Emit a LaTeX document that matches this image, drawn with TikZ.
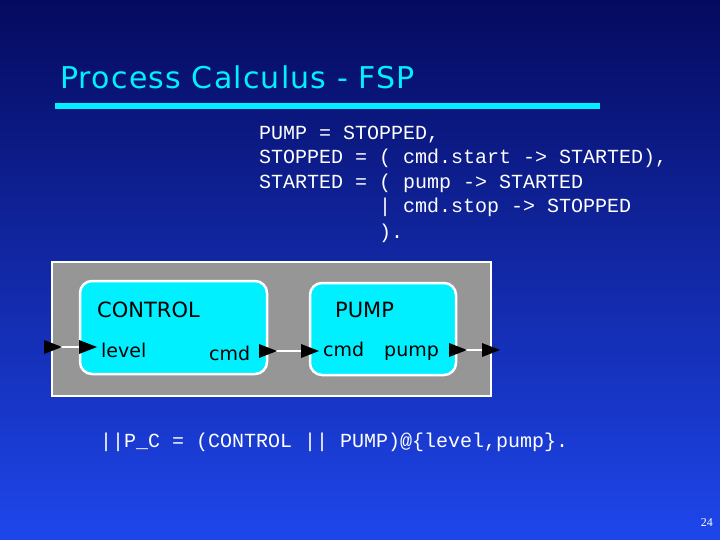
\documentclass[tikz,border=0pt]{standalone}
\usepackage{fontspec}
\setmainfont{DejaVu Sans}
\setmonofont{Liberation Mono}
\newfontfamily\serifnum{Liberation Serif}
\newfontfamily\titlefont[LetterSpace=4]{DejaVu Sans}
\usetikzlibrary{positioning}
\definecolor{navy}{RGB}{5,10,95}
\definecolor{brightblue}{RGB}{30,70,235}
\definecolor{boxcyan}{RGB}{0,240,255}
\definecolor{panelgray}{RGB}{150,150,150}
\tikzset{
    procbox/.style = {draw=white, line width=2.5pt, fill=boxcyan, rounded corners=12pt},
    codetext/.style = {anchor=base west, text=white, font=\ttfamily\fontsize{20}{24}\selectfont, inner sep=0pt},
    lbl/.style = {anchor=base west, font=\fontsize{19}{24}\selectfont, inner sep=0pt}
}
\newcommand{\tri}[2]{\fill[black] (#1-9,#2-7) -- (#1+9,#2) -- (#1-9,#2+7) -- cycle;}
\begin{document}
\begin{tikzpicture}[x=1pt,y=-1pt]
    \shade[top color=navy, bottom color=brightblue] (0,0) rectangle (720,540);
    \useasboundingbox (0,0) rectangle (720,540);
    % title
    \node[anchor=base west, text=boxcyan, font=\titlefont\fontsize{30}{32}\selectfont, inner sep=0pt] (title) at (60,89) {Process Calculus - FSP};
    \fill[boxcyan] (55,103) rectangle (600,109);
    % definitions
    \node[codetext] (l1) at (259,140) {PUMP = STOPPED,};
    \node[codetext] (l2) at (259,164) {STOPPED = ( cmd.start -> STARTED),};
    \node[codetext] (l3) at (259,189) {STARTED = ( pump -> STARTED};
    \node[codetext] (l4) at (259,213) {\ \ \ \ \ \ \ \ \ \ | cmd.stop -> STOPPED};
    \node[codetext] (l5) at (259,238) {\ \ \ \ \ \ \ \ \ \ ).};
    % structure diagram
    \draw[white, line width=2pt, fill=panelgray] (52,262) rectangle (491,396);
    \draw[procbox] (80,281) rectangle (267,374);
    \draw[procbox] (310,283) rectangle (456,375);
    \node[lbl, font=\fontsize{21}{24}\selectfont] (control) at (97,317) {CONTROL};
    \node[lbl, font=\fontsize{21}{24}\selectfont] (pump) at (335,317) {PUMP};
    \node[lbl] (level) at (101,357) {level};
    \node[lbl] (cmdA) at (209,360) {cmd};
    \node[lbl] (cmdB) at (323,356) {cmd};
    \node[lbl] (pumpp) at (384,356) {pump};
    \draw[white, line width=1.5pt] (60,347) -- (86,347);
    \draw[white, line width=1.5pt] (276,351) -- (305,351);
    \draw[white, line width=1.5pt] (465,350) -- (488,350);
    \tri{53}{347}
    \tri{88}{347}
    \tri{268}{351}
    \tri{310}{351}
    \tri{458}{350}
    \tri{491}{350}
    % composition
    \node[codetext] (comp) at (100,447) {||P\_C = (CONTROL || PUMP)@\{level,pump\}.};
    \node[anchor=base east, text=white, font=\serifnum\fontsize{12}{14}\selectfont, inner sep=0pt] (page) at (713,526) {24};
\end{tikzpicture}
\end{document}
